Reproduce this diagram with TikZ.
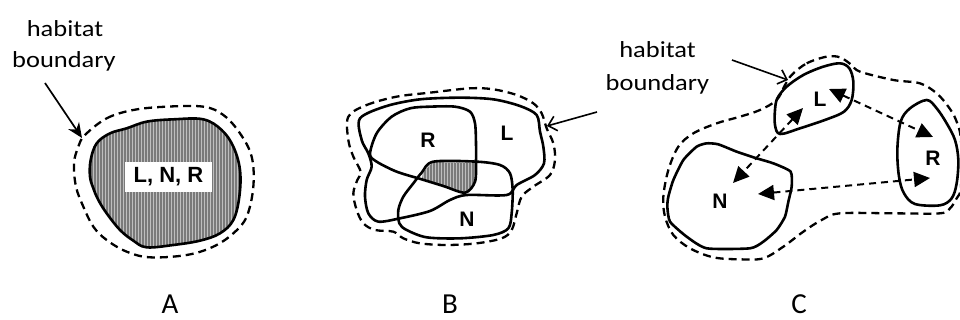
\documentclass[tikz,border=0pt]{standalone}
\usepackage{fontspec}
\usetikzlibrary{arrows.meta,patterns.meta}
\newfontfamily\habfont[FakeStretch=1.15]{Carlito}
\newfontfamily\panfont{Carlito}
\newfontfamily\lblfont{Liberation Sans}
\tikzset{
  outl/.style={line width=2.6pt, line join=round},
  dashb/.style={line width=2.3pt, dash pattern=on 8pt off 5pt},
  shade/.style={fill=black!52},
  stripes/.style={pattern={Lines[angle=90,distance=3pt,line width=1pt]}, pattern color=black!25},
  habtxt/.style={font=\habfont\fontsize{23}{28}\selectfont, anchor=base, inner sep=0pt},
  pantxt/.style={font=\panfont\fontsize{29}{34}\selectfont, anchor=base, inner sep=0pt},
  reglbl/.style={font=\lblfont\bfseries\fontsize{21}{24}\selectfont, inner sep=0pt},
  openarr/.style={line width=1.6pt, -{Straight Barb[length=8pt,width=15pt,line width=1.6pt]}},
  cdarr/.style={line width=2pt, dash pattern=on 7pt off 5pt, {Triangle[length=16pt,width=15pt]}-{Triangle[length=16pt,width=15pt]}}
}
\begin{document}
\begin{tikzpicture}[x=1pt,y=-1pt]
\useasboundingbox (0,0) rectangle (960,320);

% ---------------- Panel A ----------------
\begin{scope}[scale=1/3]
  \draw[dashb] plot[smooth cycle, tension=0.6] coordinates {(255,405) (320,355) (400,330) (500,320) (610,320) (670,345) (720,400) (755,470) (760,560) (740,650) (700,700) (640,740) (560,765) (450,772) (380,755) (320,720) (280,680) (250,620) (228,560) (222,490) (235,440)};
  \path[shade] plot[smooth cycle, tension=0.6] coordinates {(290,430) (330,400) (380,385) (440,365) (520,358) (610,358) (665,390) (700,440) (720,510) (718,590) (700,660) (660,700) (600,722) (520,735) (440,742) (400,722) (360,690) (320,640) (295,600) (280,565) (270,530) (272,480)};
  \path[stripes] plot[smooth cycle, tension=0.6] coordinates {(290,430) (330,400) (380,385) (440,365) (520,358) (610,358) (665,390) (700,440) (720,510) (718,590) (700,660) (660,700) (600,722) (520,735) (440,742) (400,722) (360,690) (320,640) (295,600) (280,565) (270,530) (272,480)};
  \draw[outl] plot[smooth cycle, tension=0.6] coordinates {(290,430) (330,400) (380,385) (440,365) (520,358) (610,358) (665,390) (700,440) (720,510) (718,590) (700,660) (660,700) (600,722) (520,735) (440,742) (400,722) (360,690) (320,640) (295,600) (280,565) (270,530) (272,480)};
\end{scope}
\node[reglbl, fill=white, minimum width=87pt, minimum height=30pt, font=\lblfont\bfseries\fontsize{22}{24}\selectfont] (lnr) at (168.5,177) {L, N, R};
\node[habtxt] (habA1) at (65,37) {habitat};
\node[habtxt] (habA2) at (64,68) {boundary};
\coordinate (aS) at (45,83);
\coordinate (aE) at (82,138);
\draw[line width=1.7pt, -{Stealth[length=15pt,width=13pt]}] (aS) -- (aE);
\node[pantxt] (labA) at (170,313) {A};

% ---------------- Panel B ----------------
\begin{scope}[shift={(320,0)}, scale=1/3]
  \draw[dashb] plot[smooth cycle, tension=0.55] coordinates {(85,350) (140,315) (230,290) (330,278) (450,265) (520,268) (590,285) (640,310) (665,340) (680,385) (700,430) (705,480) (690,525) (640,560) (605,590) (590,640) (575,690) (545,715) (470,730) (380,735) (300,730) (250,715) (220,695) (165,690) (130,670) (110,630) (100,580) (112,540) (122,515) (100,470) (85,420)};
  \path[shade] (309,516) -- (339,486) -- (471,489) -- (468,530) -- (455,560) -- (435,579) -- (370,558) -- (306,537) -- cycle;
  \path[stripes] (309,516) -- (339,486) -- (471,489) -- (468,530) -- (455,560) -- (435,579) -- (370,558) -- (306,537) -- cycle;
  % L
  \draw[outl] plot[smooth cycle, tension=0.5] coordinates {(120,355) (200,318) (300,298) (420,293) (520,298) (600,318) (650,345) (660,395) (670,440) (672,490) (645,525) (590,555) (560,585) (440,585) (390,600) (330,633) (240,655) (175,665) (145,640) (135,590) (140,540) (155,500) (145,460) (125,420)};
  % R
  \draw[outl] plot[smooth cycle, tension=0.5] coordinates {(150,462) (170,400) (215,350) (270,325) (330,320) (405,320) (450,335) (465,370) (468,430) (468,485) (465,545) (435,578) (370,558) (305,538) (230,515) (170,485)};
  % N
  \draw[outl] plot[smooth cycle, tension=0.5] coordinates {(305,518) (340,485) (470,485) (540,495) (570,520) (578,570) (575,640) (565,685) (520,705) (420,715) (320,712) (260,690) (238,670) (235,630) (250,590) (280,550)};
\end{scope}
\node[reglbl] (bR) at (428,140) {R};
\node[reglbl] (bL) at (507,133) {L};
\node[reglbl] (bN) at (467,219) {N};
\coordinate (bS) at (597,112);
\coordinate (bE) at (547,126);
\draw[openarr] (bS) -- (bE);
\node[pantxt] (labB) at (450,313) {B};

% ---------------- Panel C ----------------
\begin{scope}[shift={(640,0)}, scale=1/3]
  \draw[dashb] plot[smooth cycle, tension=0.55] coordinates {(455,225) (500,190) (560,170) (600,172) (635,195) (660,215) (760,240) (840,250) (890,280) (925,320) (948,360) (963,420) (963,560) (950,595) (930,625) (900,640) (760,640) (600,640) (545,660) (490,695) (430,740) (370,775) (300,778) (220,772) (150,745) (100,705) (75,650) (70,590) (85,510) (115,440) (160,400) (230,370) (300,350) (360,330) (410,300) (435,255)};
  % L
  \draw[outl] plot[smooth cycle, tension=0.55] coordinates {(405,330) (412,295) (440,260) (490,225) (550,200) (600,190) (628,205) (640,245) (635,300) (612,335) (560,358) (480,385) (420,402) (405,375)};
  % R
  \draw[outl] plot[smooth cycle, tension=0.55] coordinates {(860,300) (810,325) (782,365) (772,450) (777,530) (792,580) (825,612) (900,616) (935,595) (950,550) (955,480) (945,420) (920,370) (890,325)};
  % N
  \draw[outl] plot[smooth cycle, tension=0.35] coordinates {(85,590) (100,540) (130,480) (170,440) (200,430) (235,433) (290,455) (350,475) (400,490) (452,515) (455,560) (445,605) (435,650) (410,690) (370,725) (330,745) (200,745) (140,710) (90,665) (82,620)};
\end{scope}
\node[reglbl] (cL) at (820,99) {L};
\node[reglbl] (cR) at (933,158) {R};
\node[reglbl] (cN) at (720,201) {N};
\coordinate (lnA) at (803,108);
\coordinate (lnB) at (733,183);
\coordinate (lrA) at (829,89);
\coordinate (lrB) at (933,137);
\coordinate (nrA) at (758,194);
\coordinate (nrB) at (930,178);
\draw[cdarr] (lnA) -- (lnB);
\draw[cdarr] (lrA) -- (lrB);
\draw[cdarr] (nrA) -- (nrB);
\node[habtxt] (habC1) at (657.5,58) {habitat};
\node[habtxt] (habC2) at (657.5,91) {boundary};
\coordinate (cS) at (732,60);
\coordinate (cE) at (788,80);
\draw[openarr] (cS) -- (cE);
\node[pantxt] (labC) at (799,313) {C};
\end{tikzpicture}
\end{document}
